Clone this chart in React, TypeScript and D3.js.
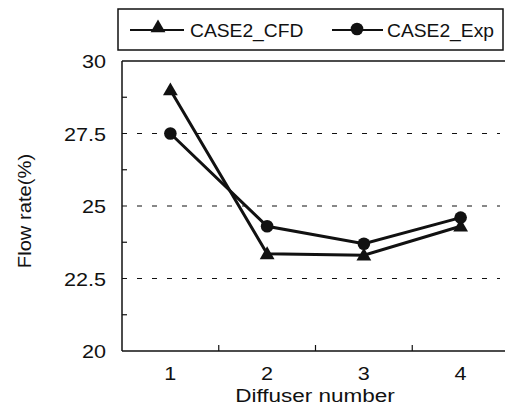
import React, { useEffect, useRef } from 'react';
import * as d3 from 'd3';

const categories = ['1', '2', '3', '4'];
const cfdValues = [29.0, 23.35, 23.3, 24.3];
const expValues = [27.5, 24.3, 23.7, 24.6];
const yTicks = [20, 22.5, 25, 27.5, 30];
const seriesNames = ['CASE2_CFD', 'CASE2_Exp'];

const App = () => {
  const ref = useRef<SVGSVGElement>(null);

  useEffect(() => {
    const svg = d3.select(ref.current);
    svg.selectAll('*').remove();

    const width = 505;
    const height = 408;
    const margin = { top: 61, right: -4, bottom: 57, left: 122 };
    const font = 'Liberation Sans, Arial, sans-serif';
    const ink = '#111';

    const x = d3.scaleBand()
      .domain(categories)
      .range([margin.left, width - margin.right]);

    const y = d3.scaleLinear()
      .domain([20, 30])
      .range([height - margin.bottom, margin.top]);

    // helper for the slightly stretched scanned lettering
    const label = (tx: number, ty: number, txt: string, anchor: string, sx = 1.2, rot = 0) =>
      svg.append('text')
        .attr('transform', `translate(${tx},${ty}) rotate(${rot}) scale(${sx},1)`)
        .attr('text-anchor', anchor)
        .style('font-family', font)
        .style('font-size', '18px')
        .attr('fill', ink)
        .text(txt);

    // dashed grid lines
    svg.append('g')
      .selectAll('line')
      .data([22.5, 25, 27.5])
      .enter()
      .append('line')
      .attr('x1', margin.left)
      .attr('x2', 500)
      .attr('y1', d => y(d))
      .attr('y2', d => y(d))
      .attr('stroke', ink)
      .attr('stroke-width', 1.2)
      .attr('stroke-dasharray', '5,10');

    // frame (right side runs off the page)
    const frame = [
      [margin.left, y(30), width, y(30)],
      [margin.left, y(30), margin.left, y(20)],
      [margin.left, y(20), width, y(20)],
    ];
    svg.append('g')
      .selectAll('line')
      .data(frame)
      .enter()
      .append('line')
      .attr('x1', d => d[0])
      .attr('y1', d => d[1])
      .attr('x2', d => d[2])
      .attr('y2', d => d[3])
      .attr('stroke', ink)
      .attr('stroke-width', 1.5);

    // y minor ticks
    svg.append('g')
      .selectAll('line')
      .data(d3.range(21.25, 30, 2.5))
      .enter()
      .append('line')
      .attr('x1', margin.left)
      .attr('x2', margin.left + 5)
      .attr('y1', d => y(d))
      .attr('y2', d => y(d))
      .attr('stroke', ink)
      .attr('stroke-width', 1.2);

    // x ticks between categories
    svg.append('g')
      .selectAll('line')
      .data(categories.slice(1))
      .enter()
      .append('line')
      .attr('x1', d => x(d)!)
      .attr('x2', d => x(d)!)
      .attr('y1', y(20))
      .attr('y2', y(20) - 6)
      .attr('stroke', ink)
      .attr('stroke-width', 1.2);

    // tick labels
    yTicks.forEach(t => label(106, y(t) + 7, String(t), 'end'));
    categories.forEach(c => label(x(c)! + x.bandwidth() / 2, y(20) + 29, c, 'middle'));

    // axis titles
    label(315, 402, 'Diffuser number', 'middle', 1.25);
    label(31, 211, 'Flow rate(%)', 'middle', 1.12, -90);

    const cx = (d: string) => x(d)! + x.bandwidth() / 2;
    const line = d3.line<number>()
      .x((_, i) => cx(categories[i]))
      .y(d => y(d));

    const triangle = d3.symbol().type(d3.symbolTriangle).size(95);
    const circle = d3.symbol().type(d3.symbolCircle).size(125);

    [cfdValues, expValues].forEach((vals, k) => {
      svg.append('path')
        .attr('d', line(vals))
        .attr('fill', 'none')
        .attr('stroke', ink)
        .attr('stroke-width', 3);
      svg.append('g')
        .selectAll('path')
        .data(vals)
        .enter()
        .append('path')
        .attr('transform', (d, i) => `translate(${cx(categories[i])},${y(d) + (k === 0 ? 1 : 0)})`)
        .attr('d', k === 0 ? triangle() : circle())
        .attr('fill', ink);
    });

    // legend box
    svg.append('rect')
      .attr('x', 118)
      .attr('y', 9)
      .attr('width', 385)
      .attr('height', 41)
      .attr('fill', 'none')
      .attr('stroke', ink)
      .attr('stroke-width', 1.5);

    const legendItems = [
      { x0: 130, x1: 184, mx: 158, sym: triangle, tx: 190 },
      { x0: 332, x1: 383, mx: 357, sym: circle, tx: 387 },
    ];
    legendItems.forEach((it, k) => {
      svg.append('line')
        .attr('x1', it.x0)
        .attr('x2', it.x1)
        .attr('y1', 30)
        .attr('y2', 30)
        .attr('stroke', ink)
        .attr('stroke-width', 2);
      svg.append('path')
        .attr('transform', `translate(${it.mx},${k === 0 ? 28 : 29})`)
        .attr('d', it.sym())
        .attr('fill', ink);
      label(it.tx, 37, seriesNames[k], 'start', 1.07);
    });
  }, []);

  return (
    <svg
      ref={ref}
      width={505}
      height={408}
      style={{ position: 'absolute', left: 0, top: 0, background: '#fff' }}
    />
  );
};

export default App;
